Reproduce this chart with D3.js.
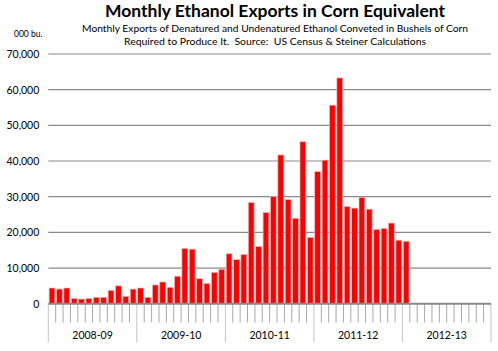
<!DOCTYPE html>
<html>
<head>
<meta charset="utf-8">
<script src="https://cdn.jsdelivr.net/npm/d3@7"></script>
<style>
  html, body { margin: 0; padding: 0; background: #fff; }
  svg { display: block; }
  text { font-family: Lato, "Open Sans", sans-serif; fill: #000; }
</style>
</head>
<body>
<svg id="chart" width="498" height="351"></svg>
<script>
// ---- Data ----
const marketingYears = ["2008-09", "2009-10", "2010-11", "2011-12", "2012-13"];
const monthsPerYear = 12;
// Monthly exports, 000 bushels corn equivalent, Sep 2008 .. Sep 2012
const exportsValues = [
  4400, 4100, 4400, 1500, 1300, 1500, 1800, 1800, 3750, 5000, 2050, 4100,
  4400, 1800, 5250, 6100, 4600, 7700, 15500, 15300, 7000, 5700, 8800, 9650,
  14000, 12350, 13800, 28400, 16000, 25550, 30050, 41700, 29200, 23950, 45400, 18600,
  37050, 40250, 55650, 63300, 27200, 26800, 29800, 26500, 20800, 21100, 22600, 17800,
  17500
];
const yTicks = [0, 10000, 20000, 30000, 40000, 50000, 60000, 70000];
const titleText = "Monthly Ethanol Exports in Corn Equivalent";
const subtitleLines = [
  "Monthly Exports of Denatured and Undenatured Ethanol Conveted in Bushels of Corn",
  "Required to Produce It.  Source:  US Census & Steiner Calculations"
];
const unitLabel = "000 bu.";

// ---- Layout ----
const svg = d3.select("#chart");
const plotLeft = 48.3, plotRight = 491, plotTop = 54, plotBottom = 303.7;
const nMonths = marketingYears.length * monthsPerYear;
const slots = d3.range(nMonths);

const x = d3.scaleBand().domain(slots).range([plotLeft, plotRight]).paddingInner(0.22).paddingOuter(0.11);
const step = (plotRight - plotLeft) / nMonths;
const boundary = k => plotLeft + k * step;
const y = d3.scaleLinear().domain([0, 70000]).range([plotBottom, plotTop]);

// Title
svg.append("text").attr("x", 275).attr("y", 17).attr("text-anchor", "middle")
  .attr("font-size", 17).attr("font-weight", "bold")
  .attr("textLength", 340).attr("lengthAdjust", "spacingAndGlyphs")
  .text(titleText);
const subW = [386, 302];
subtitleLines.forEach((s, i) => {
  svg.append("text").attr("x", 275).attr("y", 32 + i * 13).attr("text-anchor", "middle")
    .attr("font-size", 10).attr("textLength", subW[i]).attr("lengthAdjust", "spacingAndGlyphs")
    .style("white-space", "pre")
    .text(s);
});
svg.append("text").attr("x", 14).attr("y", 37).attr("font-size", 8.5).text(unitLabel);

// Gridlines
svg.append("g").selectAll("line").data(yTicks.filter(d => d > 0)).join("line")
  .attr("x1", plotLeft).attr("x2", plotRight)
  .attr("y1", d => y(d)).attr("y2", d => y(d))
  .attr("stroke", "#8a8a8a").attr("stroke-width", 1.2);

// Y axis labels
const yAxis = d3.axisLeft(y).tickValues(yTicks).tickSize(0).tickPadding(0)
  .tickFormat(d3.format(","));
const gy = svg.append("g").attr("transform", `translate(${plotLeft - 9},0)`).call(yAxis);
gy.select(".domain").remove();
gy.selectAll("text").attr("font-size", 10.5).attr("font-family", "Lato, sans-serif").attr("fill", "#000");

// Bars
svg.append("g").selectAll("rect").data(exportsValues).join("rect")
  .attr("x", (d, i) => x(i))
  .attr("width", x.bandwidth())
  .attr("y", d => y(d))
  .attr("height", d => y(0) - y(d))
  .attr("fill", "#ff0000")
  .attr("stroke", "#ffb3b3").attr("stroke-width", 0.7);

// Month ticks
const ticks = d3.range(nMonths + 1);
svg.append("g").selectAll("line").data(ticks).join("line")
  .attr("x1", k => boundary(k)).attr("x2", k => boundary(k))
  .attr("y1", plotBottom)
  .attr("y2", k => (k % monthsPerYear === 0 ? 342 : 322.5))
  .attr("stroke", k => (k % monthsPerYear === 0 ? "#c4c4c4" : "#a8a8a8"))
  .attr("stroke-width", 1);

// Baseline
svg.append("line").attr("x1", plotLeft).attr("x2", plotRight).attr("y1", plotBottom).attr("y2", plotBottom)
  .attr("stroke", "#888").attr("stroke-width", 2);

// Year labels
svg.append("g").selectAll("text").data(marketingYears).join("text")
  .attr("x", (d, i) => boundary(i * monthsPerYear + monthsPerYear / 2))
  .attr("y", 339).attr("text-anchor", "middle").attr("font-size", 10.5)
  .text(d => d);
</script>
</body>
</html>
